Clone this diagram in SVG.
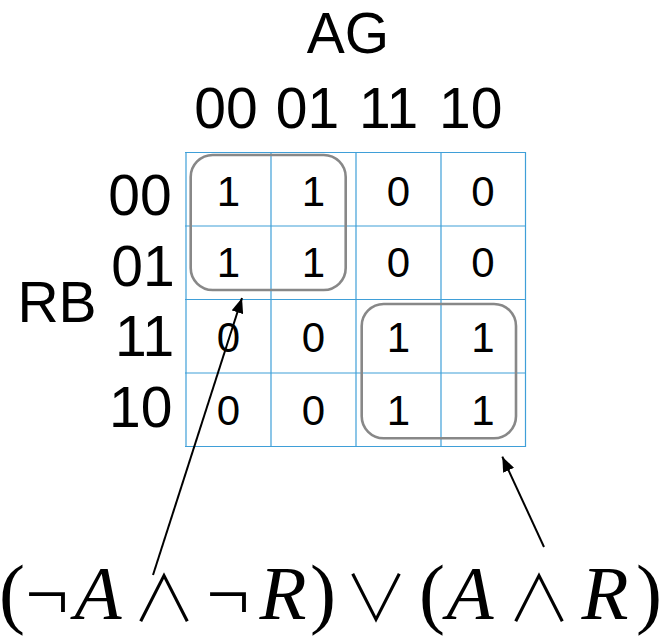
<svg xmlns="http://www.w3.org/2000/svg" width="662" height="638" viewBox="0 0 662 638">
<style>
.lbl{font-family:"Liberation Sans",Arial,sans-serif;font-size:57px;fill:#000;text-anchor:middle}
.cell{font-family:"Liberation Sans",Arial,sans-serif;font-size:42px;fill:#000;text-anchor:middle}
.grid line{stroke:#3f9fd8;stroke-width:1.2}
.grp{fill:none;stroke:#888;stroke-width:2.6}
.arr{stroke:#000;stroke-width:2;fill:none}
.f{font-family:"Liberation Serif","Times New Roman",serif;font-size:77px;fill:#000;text-anchor:middle}
.fi{font-style:italic}
.fp{font-size:78px;text-anchor:start}
.fo{font-family:"Noto Sans CJK JP","DejaVu Sans",sans-serif;font-size:64px;font-weight:300}
</style>
<defs>
<marker id="ah" markerUnits="userSpaceOnUse" markerWidth="16" markerHeight="12" refX="15" refY="6" orient="auto">
<path d="M0,0 L15,6 L0,12 Z" fill="#000"/>
</marker>
</defs>
<g id="labels">
<text class="lbl" x="348" y="53">AG</text>
<text class="lbl" x="226" y="128">00</text>
<text class="lbl" x="307.5" y="128">01</text>
<text class="lbl" x="388.5" y="128">11</text>
<text class="lbl" x="470.7" y="128">10</text>
<text class="lbl" x="57" y="322">RB</text>
<text class="lbl" x="140" y="215">00</text>
<text class="lbl" x="143" y="286">01</text>
<text class="lbl" x="144.5" y="356">11</text>
<text class="lbl" x="140.7" y="427">10</text>
</g>
<g id="grid" class="grid">
<line x1="186" y1="152" x2="186" y2="447"/>
<line x1="271" y1="152" x2="271" y2="447"/>
<line x1="356" y1="152" x2="356" y2="447"/>
<line x1="441" y1="152" x2="441" y2="447"/>
<line x1="525.5" y1="152" x2="525.5" y2="447"/>
<line x1="185" y1="152.5" x2="526" y2="152.5"/>
<line x1="185" y1="226" x2="526" y2="226"/>
<line x1="185" y1="299.5" x2="526" y2="299.5"/>
<line x1="185" y1="373" x2="526" y2="373"/>
<line x1="185" y1="446.5" x2="526" y2="446.5"/>
</g>
<g id="cells">
<text class="cell" x="228.5" y="206">1</text>
<text class="cell" x="313.5" y="206">1</text>
<text class="cell" x="398.5" y="206">0</text>
<text class="cell" x="483" y="206">0</text>
<text class="cell" x="228.5" y="277">1</text>
<text class="cell" x="313.5" y="277">1</text>
<text class="cell" x="398.5" y="277">0</text>
<text class="cell" x="483" y="277">0</text>
<text class="cell" x="228.5" y="352">0</text>
<text class="cell" x="313.5" y="352">0</text>
<text class="cell" x="398.5" y="352">1</text>
<text class="cell" x="483" y="352">1</text>
<text class="cell" x="228.5" y="425">0</text>
<text class="cell" x="313.5" y="425">0</text>
<text class="cell" x="398.5" y="425">1</text>
<text class="cell" x="483" y="425">1</text>
</g>
<g id="group1"><rect class="grp" x="190.7" y="155" width="155" height="135" rx="22"/></g>
<g id="group2"><rect class="grp" x="361.7" y="304" width="154.3" height="134.3" rx="22"/></g>
<g id="connectors">
<line class="arr" x1="153" y1="575" x2="242" y2="298" marker-end="url(#ah)"/>
<line class="arr" x1="544" y1="547" x2="502.3" y2="456.7" marker-end="url(#ah)"/>
</g>
<g id="formula">
<text class="f fp" x="-1" y="619">(</text>
<text class="f" x="47" y="619">¬</text>
<text class="f fi" x="98" y="619">A</text>
<text class="f fo" x="164" y="621">∧</text>
<text class="f" x="228" y="619">¬</text>
<text class="f fi" x="283" y="619">R</text>
<text class="f fp" x="310" y="619">)</text>
<text class="f fo" x="376" y="621">∨</text>
<text class="f fp" x="419" y="619">(</text>
<text class="f fi" x="470" y="619">A</text>
<text class="f fo" x="539" y="621">∧</text>
<text class="f fi" x="605" y="619">R</text>
<text class="f fp" x="636" y="619">)</text>
</g>
</svg>
